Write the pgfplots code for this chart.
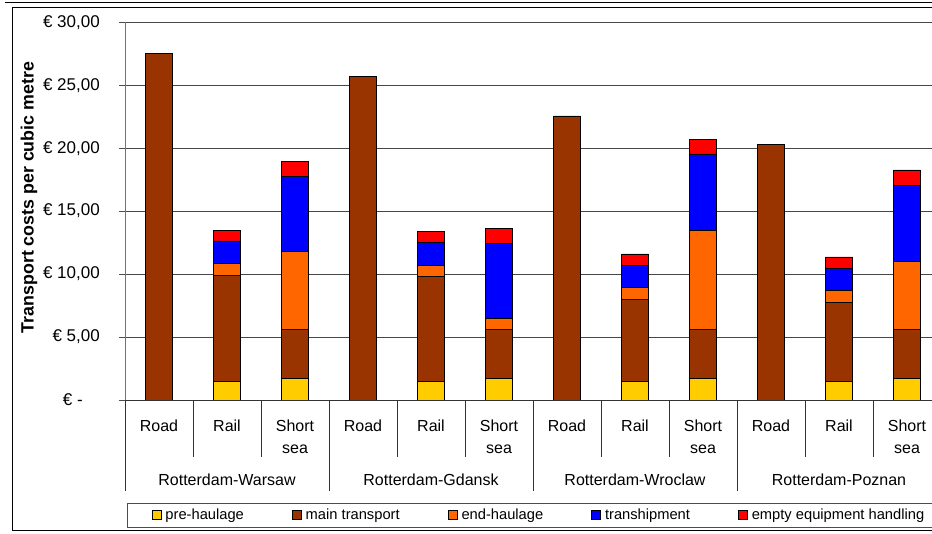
\documentclass[border=0pt]{standalone}
\usepackage{pgfplots}
\pgfplotsset{compat=1.18}
\usepackage{pgfplotstable}
\usepackage{fontspec}
\setmainfont{Liberation Sans}
\definecolor{cpre}{HTML}{FFCC00}
\definecolor{cmain}{HTML}{993300}
\definecolor{cend}{HTML}{FF6600}
\definecolor{ctrans}{HTML}{0000FF}
\definecolor{cempty}{HTML}{FF0000}

\pgfplotstableread{
x pre main endh trans empty
1 0 27.50 0 0 0
2 1.45 8.45 0.93 1.80 0.87
3 1.72 3.89 6.17 5.99 1.21
4 0 25.70 0 0 0
5 1.45 8.35 0.87 1.85 0.88
6 1.72 3.89 0.85 5.99 1.21
7 0 22.56 0 0 0
8 1.45 6.55 0.92 1.78 0.90
9 1.72 3.89 7.89 6.04 1.16
10 0 20.33 0 0 0
11 1.45 6.31 0.92 1.80 0.88
12 1.72 3.89 5.43 5.98 1.25
}\costs

\begin{document}
\begin{tikzpicture}
\begin{axis}[
  at={(125bp,134bp)}, anchor=south west,
  width=816bp, height=377.7bp, scale only axis,
  xmin=0.5, xmax=12.5, ymin=0, ymax=30,
  ybar stacked, bar width=27bp,
  axis x line*=bottom, axis y line*=left,
  x axis line style={black!80, line width=0.8bp},
  y axis line style={black!55, line width=0.8bp},
  xtick={1,...,12},
  xticklabels={Road,Rail,{Short\\sea},Road,Rail,{Short\\sea},Road,Rail,{Short\\sea},Road,Rail,{Short\\sea}},
  x tick style={draw=none},
  xticklabel style={align=center, anchor=north, inner sep=0pt, font=\fontsize{16bp}{22bp}\selectfont, yshift=-14bp},
  ytick={0,5,...,30},
  yticklabels={{€ -\hspace*{17bp}},{€ 5,00},{€ 10,00},{€ 15,00},{€ 20,00},{€ 25,00},{€ 30,00}},
  yticklabel style={anchor=east, inner sep=0pt, font=\fontsize{17bp}{20bp}\selectfont, xshift=-19bp},
  y tick style={black!70, line width=0.8bp},
  tick align=outside, major tick length=6bp,
  ymajorgrids, grid style={black!72, line width=0.8bp},
  ylabel={Transport costs per cubic metre},
  ylabel style={font=\bfseries\fontsize{17.8bp}{21bp}\selectfont, at={(axis description cs:-0.1176,0.536)}, anchor=center},
  legend image code/.code={\draw[#1] (0bp,-4.5bp) rectangle (9bp,4.5bp);},
  legend columns=5,
  legend style={at={(axis description cs:0.0327,-0.3045)}, anchor=west, draw=none, fill=none,
    inner sep=0pt, outer sep=0pt,
    nodes={inner sep=0pt, font=\fontsize{14.7bp}{17bp}\selectfont},
    /tikz/every odd column/.append style={column sep=4bp},
    /tikz/every even column/.append style={column sep=48bp}},
  legend cell align=left,
]
\addplot[fill=cpre, draw=black, line width=0.8bp] table[x=x,y=pre]{\costs};
\addplot[fill=cmain, draw=black, line width=0.8bp] table[x=x,y=main]{\costs};
\addplot[fill=cend, draw=black, line width=0.8bp] table[x=x,y=endh]{\costs};
\addplot[fill=ctrans, draw=black, line width=0.8bp] table[x=x,y=trans]{\costs};
\addplot[fill=cempty, draw=black, line width=0.8bp] table[x=x,y=empty]{\costs};
\legend{pre-haulage, main transport, end-haulage, transhipment, empty equipment handling}
\end{axis}
% category separators
\foreach \k [evaluate=\k as \xx using 125+68*\k] in {1,2,4,5,7,8,10,11}
  \draw[black!80, line width=0.8bp] (\xx bp,134bp) -- (\xx bp,77bp);
\foreach \k [evaluate=\k as \xx using 125+68*\k] in {0,3,6,9,12}
  \draw[black!80, line width=0.8bp] (\xx bp,134bp) -- (\xx bp,43bp);
% group labels
\foreach \g/\name in {0/Rotterdam-Warsaw,1/Rotterdam-Gdansk,2/Rotterdam-Wroclaw,3/Rotterdam-Poznan}
  {\pgfmathsetmacro\gx{227+204*\g}
   \node[anchor=base, inner sep=0pt, font=\fontsize{16bp}{19bp}\selectfont] at (\gx bp,48bp) {\name};}
% legend box
\draw[black!70, line width=0.8bp] (127bp,7bp) rectangle (945bp,31bp);
% chart frame
\draw[black, line width=1bp] (12bp,3bp) rectangle (960bp,526bp);
\draw[black, line width=1bp] (5bp,531bp) -- (960bp,531bp);
\pgfresetboundingbox
\useasboundingbox (0,0) rectangle (932bp,534bp);
\end{tikzpicture}
\end{document}
